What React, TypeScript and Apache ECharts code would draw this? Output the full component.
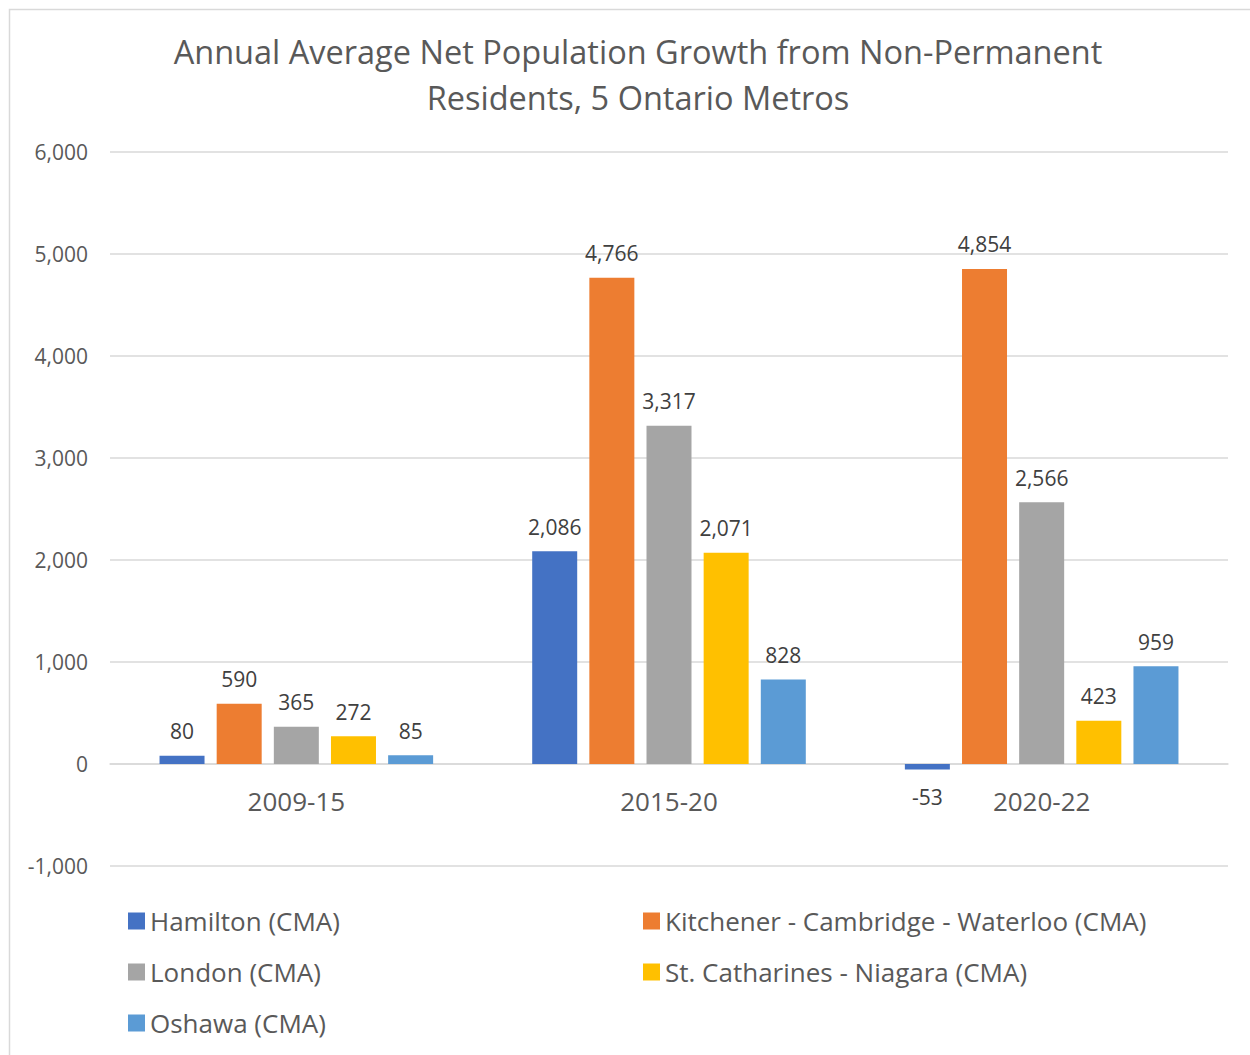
import React, { useEffect, useRef } from "react";
import * as echarts from "echarts";

const categories = ["2009-15", "2015-20", "2020-22"];
const seriesNames = [
  "Hamilton (CMA)",
  "Kitchener - Cambridge - Waterloo (CMA)",
  "London (CMA)",
  "St. Catharines - Niagara (CMA)",
  "Oshawa (CMA)",
];
const hamilton = [80, 2086, -53];
const kitchener = [590, 4766, 4854];
const london = [365, 3317, 2566];
const stCatharines = [272, 2071, 423];
const oshawa = [85, 828, 959];
const seriesValues = [hamilton, kitchener, london, stCatharines, oshawa];
const colors = ["#4472C4", "#ED7D31", "#A5A5A5", "#FFC000", "#5B9BD5"];
const titleLines = ["Annual Average Net Population Growth from Non-Permanent", "Residents, 5 Ontario Metros"];

const FONT = "'Open Sans', 'Noto Sans', sans-serif";

export default function App() {
  const ref = useRef<HTMLDivElement>(null);
  useEffect(() => {
    if (!ref.current) return;
    const chart = echarts.init(ref.current, undefined, { renderer: "svg" });
    const fmt = (v: number) => v.toLocaleString("en-US");
    const legendText = { fontFamily: FONT, fontSize: 26, color: "#595959", padding: [0, 0, 0, 0] };
    chart.setOption({
      animation: false,
      backgroundColor: "#ffffff",
      textStyle: { fontFamily: FONT },
      title: {
        text: titleLines.join("\n"),
        left: 633,
        textAlign: "center",
        top: 23,
        textStyle: { fontFamily: FONT, fontSize: 32.5, fontWeight: "normal", color: "#595959", lineHeight: 46 },
      },
      graphic: [
        {
          type: "rect",
          shape: { x: 9.5, y: 9.5, width: 1300, height: 1100 },
          style: { fill: "none", stroke: "#D9D9D9", lineWidth: 1.5 },
          silent: true,
        },
      ],
      legend: [
        {
          data: [seriesNames[0], seriesNames[2], seriesNames[4]],
          orient: "vertical",
          left: 123,
          top: 903,
          itemWidth: 17,
          itemHeight: 17,
          itemGap: 25,
          icon: "rect",
          textStyle: legendText,
        },
        {
          data: [seriesNames[1], seriesNames[3]],
          orient: "vertical",
          left: 638,
          top: 903,
          itemWidth: 17,
          itemHeight: 17,
          itemGap: 25,
          icon: "rect",
          textStyle: legendText,
        },
      ],
      grid: { left: 110, right: 22, top: 152, bottom: 189, containLabel: false },
      xAxis: {
        type: "category",
        data: categories,
        offset: -102,
        axisLine: { onZero: false, lineStyle: { color: "#D9D9D9", width: 1.5 } },
        axisTick: { show: false },
        axisLabel: { fontFamily: FONT, fontSize: 26, color: "#595959", margin: 24 },
      },
      yAxis: {
        type: "value",
        min: -1000,
        max: 6000,
        interval: 1000,
        axisLine: { show: false },
        axisTick: { show: false },
        splitLine: { lineStyle: { color: "#D9D9D9", width: 1.5 } },
        axisLabel: { fontFamily: FONT, fontSize: 21, color: "#595959", margin: 22, formatter: (v: number) => fmt(v) },
      },
      series: seriesNames.map((name, i) => ({
        name,
        type: "bar",
        barWidth: 45,
        barGap: "27%",
        itemStyle: { color: colors[i] },
        label: {
          show: true,
          position: "top",
          distance: 14,
          fontFamily: FONT,
          fontSize: 21,
          color: "#404040",
          formatter: (p: any) => fmt(p.value),
        },
        data: seriesValues[i].map((v) =>
          v < 0 ? { value: v, label: { position: "bottom", distance: 17 } } : v
        ),
      })),
    });
    return () => chart.dispose();
  }, []);
  return (
    <div
      ref={ref}
      style={{ position: "absolute", left: 0, top: 0, width: 1250, height: 1055 }}
    />
  );
}
